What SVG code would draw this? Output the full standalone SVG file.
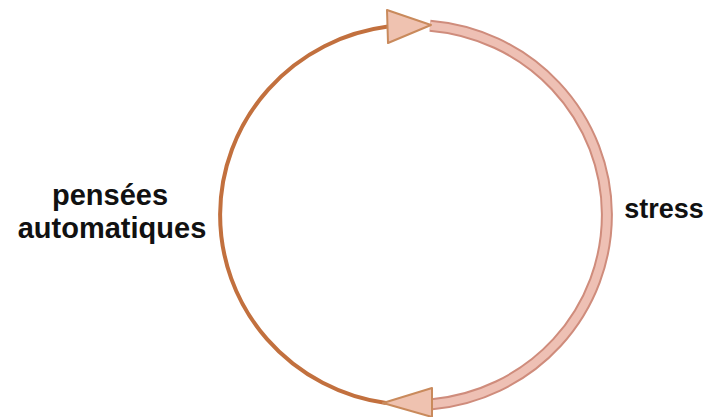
<svg xmlns="http://www.w3.org/2000/svg" width="706" height="417" viewBox="0 0 706 417">
<style>
.lbl{font-family:"Liberation Sans",Arial,sans-serif;font-weight:bold;fill:#111}
.thin{fill:none;stroke:#c2703e;stroke-width:4}
.bandO{fill:none;stroke:#cf8c7c;stroke-width:12}
.bandI{fill:none;stroke:#eec0b4;stroke-width:8}
.head{fill:#efc2b0;stroke:#c98a5c;stroke-width:2;stroke-linejoin:round}
</style>
<g id="connectors">
<path class="thin" d="M386,403.1 A193,190 0 0 1 388,26.6"/>
<path class="bandO" d="M430,25.7 A193,190 0 0 1 432,404.2"/>
<path class="bandI" d="M430,25.7 A193,190 0 0 1 432,404.2"/>
<polygon class="head" points="387,10 431,25 388,43"/>
<polygon class="head" points="432,388 383,403 432,417"/>
</g>
<g id="pensees"><text class="lbl" x="110" y="205" font-size="29" text-anchor="middle">pensées</text><text class="lbl" x="112" y="238" font-size="29" text-anchor="middle">automatiques</text></g>
<g id="stress"><text class="lbl" x="664" y="218" font-size="27" text-anchor="middle">stress</text></g>
</svg>
